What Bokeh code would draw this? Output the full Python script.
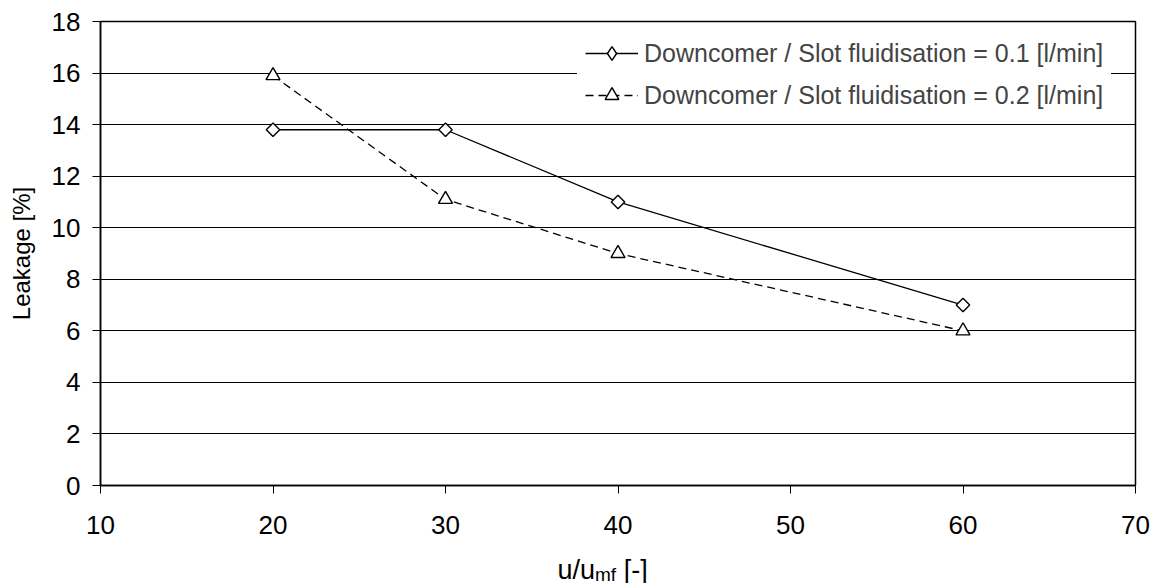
import numpy as np
from bokeh.plotting import figure
from bokeh.layouts import column
from bokeh.models import FixedTicker, Range1d, LegendItem, Legend
from bokeh.core.properties import value
from bokeh.embed import file_html
from bokeh.resources import INLINE

# Data
u_ratio = [20, 30, 40, 60]
leak_01 = [13.8, 13.8, 11.0, 7.0]
leak_02 = [15.9, 11.1, 9.0, 6.0]
label_01 = "Downcomer / Slot fluidisation = 0.1 [l/min]"
label_02 = "Downcomer / Slot fluidisation = 0.2 [l/min]"
x_ticks = [10, 20, 30, 40, 50, 60, 70]
y_ticks = [0, 2, 4, 6, 8, 10, 12, 14, 16, 18]
x_title_parts = ["u/u", "mf", "\u00a0[-]"]
y_title = "Leakage [%]"

FONT = "Liberation Sans"
TICK_FS = 26
LEG_FS = 25
YLAB_FS = 24
XLAB_FS = 27
SUB_FS = 19

H_MAIN = 550
H_XLAB = 33

p = figure(width=1157, height=H_MAIN, output_backend="svg", toolbar_location=None,
           x_range=Range1d(10, 70), y_range=Range1d(0, 18),
           min_border_left=100, min_border_right=22, min_border_top=21,
           min_border_bottom=H_MAIN - 485)

l1 = p.line(u_ratio, leak_01, line_color="black", line_width=1.3)
# diamond drawn underneath the rotated squares; it is what the legend shows
m1_leg = p.scatter(u_ratio, leak_01, marker="diamond", size=12, fill_color="white",
                   line_color="black", line_width=1.4)
m1 = p.scatter(u_ratio, leak_01, marker="square", angle=np.pi / 4, size=9.5, fill_color="white",
               line_color="black", line_width=1.4)
l2 = p.line(u_ratio, leak_02, line_color="black", line_width=1.3, line_dash="8 5")
m2 = p.scatter(u_ratio, leak_02, marker="triangle", size=14, fill_color="white",
               line_color="black", line_width=1.4)

p.xgrid.grid_line_color = None
p.ygrid.grid_line_color = "black"
p.ygrid.grid_line_width = 1
p.ygrid.ticker = FixedTicker(ticks=y_ticks)

p.outline_line_color = "black"
p.outline_line_width = 1.5
p.background_fill_color = "white"
p.border_fill_color = "white"

for ax in (p.xaxis, p.yaxis):
    ax.axis_line_color = "black"
    ax.axis_line_width = 1.5
    ax.major_tick_line_color = "black"
    ax.major_tick_out = 8
    ax.major_tick_in = 0
    ax.minor_tick_line_color = None
    ax.major_label_text_font = FONT
    ax.major_label_text_font_size = f"{TICK_FS}px"
    ax.major_label_text_color = "black"
    ax.axis_label_text_font = FONT
    ax.axis_label_text_font_style = "normal"
    ax.axis_label_text_color = "black"

p.xaxis.ticker = FixedTicker(ticks=x_ticks)
p.yaxis.ticker = FixedTicker(ticks=y_ticks)
p.xaxis.major_label_standoff = 22
p.yaxis.major_label_standoff = 12
p.yaxis.axis_label = y_title
p.yaxis.axis_label_text_font_size = f"{YLAB_FS}px"
p.yaxis.axis_label_standoff = 14

lg = Legend(items=[LegendItem(label=label_01, renderers=[l1, m1_leg]),
                   LegendItem(label=label_02, renderers=[l2, m2])])
p.add_layout(lg, "center")
lg.location = (477, 365)
lg.margin = 0
lg.padding = 8
lg.spacing = 8
lg.border_line_alpha = 0
lg.background_fill_color = "white"
lg.background_fill_alpha = 1
lg.label_text_font = FONT
lg.label_text_font_size = f"{LEG_FS}px"
lg.glyph_width = 53
lg.glyph_height = 34
lg.label_standoff = 6

# x-axis title row (with subscript), in a strip below the main figure
p2 = figure(width=1157, height=H_XLAB, output_backend="svg", toolbar_location=None, title=None,
            x_range=Range1d(0, 1035), y_range=Range1d(0, H_XLAB),
            x_axis_type=None, y_axis_type=None,
            min_border=0, min_border_left=100, min_border_right=22,
            min_border_top=0, min_border_bottom=0)
p2.grid.visible = False
p2.outline_line_color = None
p2.background_fill_color = "white"
p2.border_fill_color = "white"

x0 = 457
w_main = 1.39 * XLAB_FS
w_sub = 1.111 * SUB_FS
base = 14
p2.text(x=[x0], y=[base], text=[x_title_parts[0]], text_font=value(FONT),
        text_font_size=value(f"{XLAB_FS}px"), text_baseline="alphabetic", text_align="left",
        text_color="black")
p2.text(x=[x0 + w_main], y=[base - 4.5], text=[x_title_parts[1]], text_font=value(FONT),
        text_font_size=value(f"{SUB_FS}px"), text_baseline="alphabetic", text_align="left",
        text_color="black")
p2.text(x=[x0 + w_main + w_sub], y=[base], text=[x_title_parts[2]], text_font=value(FONT),
        text_font_size=value(f"{XLAB_FS}px"), text_baseline="alphabetic", text_align="left",
        text_color="black")

layout = column(p, p2, spacing=0)
open("out.html", "w").write(file_html(layout, INLINE))
